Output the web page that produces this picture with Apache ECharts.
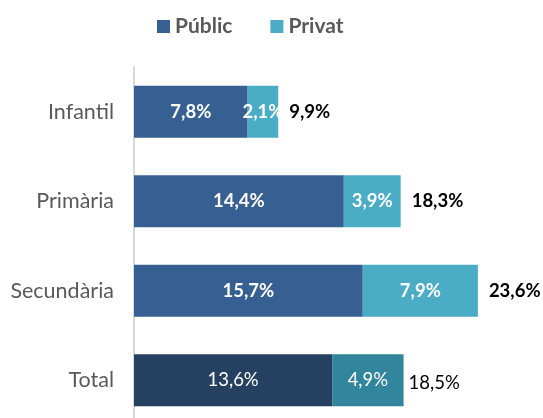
<!DOCTYPE html>
<html>
<head>
<meta charset="utf-8">
<script src="https://cdn.jsdelivr.net/npm/echarts@6/dist/echarts.min.js"></script>
<style>
  html, body { margin: 0; padding: 0; background: #fff; }
  #main { width: 543px; height: 418px; }
</style>
</head>
<body>
<div id="main"></div>
<script>
let categories = ['Infantil', 'Primària', 'Secundària', 'Total']
let publicValues = [7.8, 14.4, 15.7, 13.6]
let privatValues = [2.1, 3.9, 7.9, 4.9]
let totals = [9.9, 18.3, 23.6, 18.5]

let colorPublic = '#376092'
let colorPrivat = '#4BACC6'
let colorPublicTotal = '#254061'
let colorPrivatTotal = '#31859C'

function pct(v) {
    return v.toFixed(1).replace('.', ',') + '%'
}

let myChart = echarts.init(document.getElementById('main'))

let insideLabel = {
    show: true,
    position: 'inside',
    color: '#fff',
    fontFamily: 'Lato',
    fontSize: 18.5,
    fontWeight: 'bold',
    formatter: function (p) { return pct(p.value) }
}

let publicData = publicValues.map(function (v, i) {
    let item = { value: v }
    if (categories[i] == 'Total') {
        item.itemStyle = { color: colorPublicTotal }
        item.label = { fontWeight: 'normal' }
    }
    return item
})

let privatData = privatValues.map(function (v, i) {
    let item = { value: v }
    if (categories[i] == 'Total') {
        item.itemStyle = { color: colorPrivatTotal }
        item.label = { fontWeight: 'normal' }
    }
    return item
})

let totalData = totals.map(function (v, i) {
    let item = { value: 0 }
    if (categories[i] == 'Total') {
        item.label = { fontWeight: 'normal', distance: 5, offset: [0, 3] }
    }
    return item
})

let option = {
    animation: false,
    legend: {
        data: ['Públic', 'Privat'],
        top: 11,
        left: 152,
        icon: 'rect',
        itemWidth: 13,
        itemHeight: 13,
        itemGap: 38,
        textStyle: {
            fontFamily: 'Lato',
            fontSize: 21,
            fontWeight: 'bold',
            color: '#595959'
        }
    },
    grid: { left: 134, top: 67, width: 408, height: 358, outerBoundsMode: 'none' },
    xAxis: {
        type: 'value',
        min: 0,
        max: 28,
        show: false
    },
    yAxis: {
        type: 'category',
        inverse: true,
        data: categories,
        axisLine: { show: true, lineStyle: { color: '#d9d9d9', width: 2 } },
        axisTick: { show: false },
        axisLabel: {
            margin: 20,
            fontFamily: 'Lato',
            fontSize: 21.5,
            color: '#595959'
        }
    },
    series: [
        {
            name: 'Públic',
            type: 'bar',
            stack: 'a',
            barWidth: 52,
            itemStyle: { color: colorPublic },
            label: insideLabel,
            data: publicData
        },
        {
            name: 'Privat',
            type: 'bar',
            stack: 'a',
            barWidth: 52,
            itemStyle: { color: colorPrivat },
            label: insideLabel,
            data: privatData
        },
        {
            name: 'total',
            type: 'bar',
            stack: 'a',
            barWidth: 52,
            itemStyle: { color: 'transparent' },
            label: {
                show: true,
                position: 'right',
                distance: 11,
                color: '#000',
                fontFamily: 'Lato',
                fontSize: 18.5,
                fontWeight: 'bold',
                formatter: function (p) { return pct(totals[p.dataIndex]) }
            },
            data: totalData
        }
    ]
}

myChart.setOption(option, true)
</script>
</body>
</html>
